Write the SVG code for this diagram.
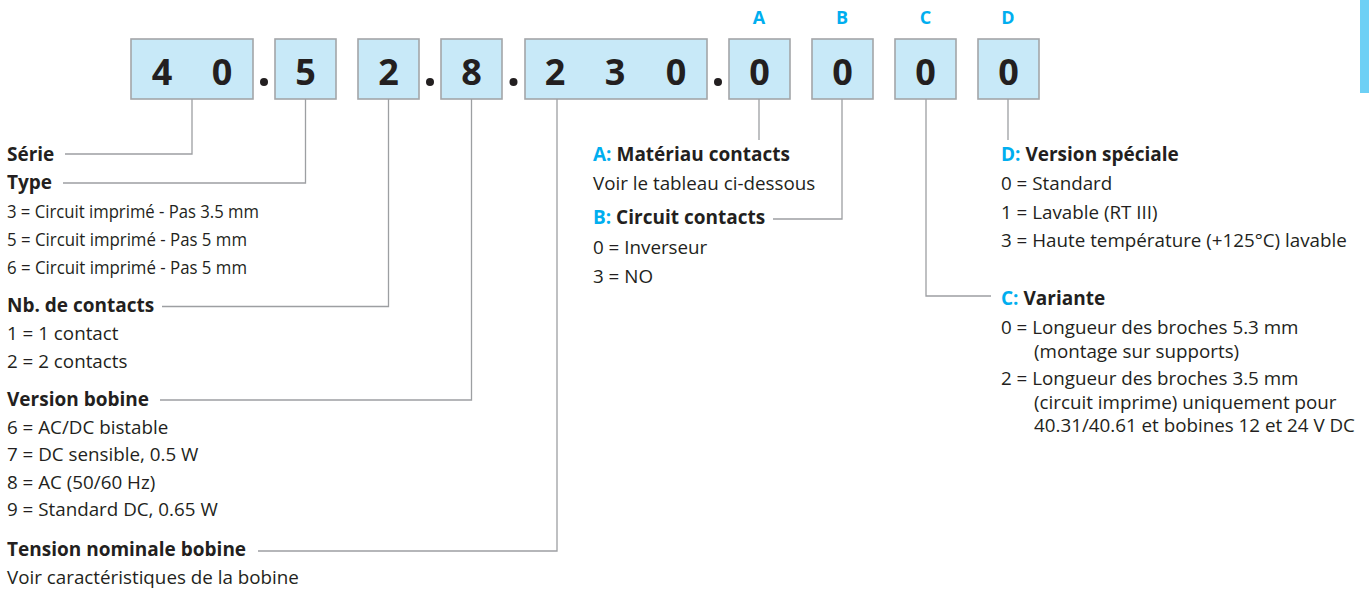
<svg xmlns="http://www.w3.org/2000/svg" width="1369" height="592" viewBox="0 0 1369 592">
<style>
.box{fill:#c8e9f8;stroke:#a3a5a8;stroke-width:1.6}
.dig{font-family:"Open Sans","Liberation Sans",sans-serif;font-weight:700;font-size:36px;fill:#231f20;text-anchor:middle}
.let{font-family:"Open Sans","Liberation Sans",sans-serif;font-weight:700;font-size:18px;fill:#00aeef;text-anchor:middle}
.h{font-family:"Open Sans","Liberation Sans",sans-serif;font-weight:700;font-size:19px;fill:#231f20}
.t{font-family:"Open Sans","Liberation Sans",sans-serif;font-size:18.8px;fill:#231f20}
.b{fill:#00aeef}
.ln{fill:none;stroke:#9d9fa2;stroke-width:1.3}
.dot{fill:#231f20}
</style>
<rect x="1360" y="0" width="9" height="93" fill="#6dd0f5"/>
<g id="code">
  <g id="box-serie"><rect class="box" x="131" y="39" width="122" height="60"/><text class="dig" x="162" y="85">4</text><text class="dig" x="222" y="85">0</text></g>
  <circle class="dot" cx="264" cy="82" r="4"/>
  <g id="box-type"><rect class="box" x="275" y="39" width="61" height="60"/><text class="dig" x="305.5" y="85">5</text></g>
  <g id="box-contacts"><rect class="box" x="358" y="39" width="61" height="60"/><text class="dig" x="388.5" y="85">2</text></g>
  <circle class="dot" cx="430" cy="82" r="4"/>
  <g id="box-bobine"><rect class="box" x="441" y="39" width="61" height="60"/><text class="dig" x="471.5" y="85">8</text></g>
  <circle class="dot" cx="513.5" cy="82" r="4"/>
  <g id="box-tension"><rect class="box" x="525" y="39" width="182" height="60"/><text class="dig" x="555" y="85">2</text><text class="dig" x="615" y="85">3</text><text class="dig" x="676" y="85">0</text></g>
  <circle class="dot" cx="718" cy="82" r="4"/>
  <g id="box-a"><text class="let" x="759" y="24">A</text><rect class="box" x="729" y="39" width="61" height="60"/><text class="dig" x="759.5" y="85">0</text></g>
  <g id="box-b"><text class="let" x="842" y="24">B</text><rect class="box" x="812" y="39" width="61" height="60"/><text class="dig" x="842.5" y="85">0</text></g>
  <g id="box-c"><text class="let" x="925.5" y="24">C</text><rect class="box" x="895" y="39" width="61" height="60"/><text class="dig" x="925.5" y="85">0</text></g>
  <g id="box-d"><text class="let" x="1008" y="24">D</text><rect class="box" x="978" y="39" width="61" height="60"/><text class="dig" x="1008.5" y="85">0</text></g>
</g>
<g id="connectors">
  <path class="ln" d="M192,99V154H65"/>
  <path class="ln" d="M305.5,99V183H63"/>
  <path class="ln" d="M388.5,99V306.5H162"/>
  <path class="ln" d="M471.5,99V400H160"/>
  <path class="ln" d="M557,99V551H258"/>
  <path class="ln" d="M759,99V140"/>
  <path class="ln" d="M842,99V219H773"/>
  <path class="ln" d="M926,99V296H991"/>
  <path class="ln" d="M1008,99V140"/>
</g>
<g id="serie"><text class="h" x="7" y="160.5">Série</text></g>
<g id="type">
  <text class="h" x="7" y="189">Type</text>
  <text class="t" x="7" y="217.5" textLength="252" lengthAdjust="spacingAndGlyphs">3 = Circuit imprimé - Pas 3.5 mm</text>
  <text class="t" x="7" y="245.5" textLength="240" lengthAdjust="spacingAndGlyphs">5 = Circuit imprimé - Pas 5 mm</text>
  <text class="t" x="7" y="274" textLength="240" lengthAdjust="spacingAndGlyphs">6 = Circuit imprimé - Pas 5 mm</text>
</g>
<g id="nb-contacts">
  <text class="h" x="7" y="312">Nb. de contacts</text>
  <text class="t" x="7" y="340">1 = 1 contact</text>
  <text class="t" x="7" y="368">2 = 2 contacts</text>
</g>
<g id="version-bobine">
  <text class="h" x="7" y="405.5">Version bobine</text>
  <text class="t" x="7" y="433.5">6 = AC/DC bistable</text>
  <text class="t" x="7" y="461">7 = DC sensible, 0.5 W</text>
  <text class="t" x="7" y="488.5">8 = AC (50/60 Hz)</text>
  <text class="t" x="7" y="516">9 = Standard DC, 0.65 W</text>
</g>
<g id="tension">
  <text class="h" x="7" y="556">Tension nominale bobine</text>
  <text class="t" x="7" y="584">Voir caractéristiques de la bobine</text>
</g>
<g id="a-materiau">
  <text class="h" x="593" y="160.5"><tspan class="b">A:</tspan> Matériau contacts</text>
  <text class="t" x="593" y="189.5">Voir le tableau ci-dessous</text>
</g>
<g id="b-circuit">
  <text class="h" x="593" y="224"><tspan class="b">B:</tspan> Circuit contacts</text>
  <text class="t" x="593" y="254">0 = Inverseur</text>
  <text class="t" x="593" y="282.5">3 = NO</text>
</g>
<g id="d-version">
  <text class="h" x="1001" y="160.5"><tspan class="b">D:</tspan> Version spéciale</text>
  <text class="t" x="1001" y="190">0 = Standard</text>
  <text class="t" x="1001" y="218.5">1 = Lavable (RT III)</text>
  <text class="t" x="1001" y="246.5">3 = Haute température (+125°C) lavable</text>
</g>
<g id="c-variante">
  <text class="h" x="1001" y="305"><tspan class="b">C:</tspan> Variante</text>
  <text class="t" x="1001" y="334">0 = Longueur des broches 5.3 mm</text>
  <text class="t" x="1034" y="357.5">(montage sur supports)</text>
  <text class="t" x="1001" y="385">2 = Longueur des broches 3.5 mm</text>
  <text class="t" x="1034" y="408.5">(circuit imprime) uniquement pour</text>
  <text class="t" x="1034" y="432">40.31/40.61 et bobines 12 et 24 V DC</text>
</g>
</svg>
